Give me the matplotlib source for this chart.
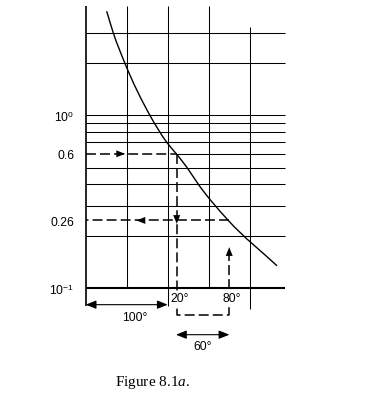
import matplotlib
matplotlib.use('Agg')
import matplotlib.pyplot as plt
import numpy as np
from matplotlib.path import Path
from matplotlib.patches import PathPatch
from matplotlib.transforms import IdentityTransform

plt.rcParams['font.family'] = ['Liberation Sans', 'DejaVu Sans']
plt.rcParams['mathtext.fontset'] = 'custom'
plt.rcParams['mathtext.rm'] = 'Liberation Sans'
plt.rcParams['mathtext.it'] = 'Liberation Serif:italic'

# ── data (x in degrees, y on log scale) ──────────────────
curve_x = [25.6, 33.7, 47.9, 78.4, 98.8, 110.5, 123.5, 137.3, 173.9, 233.3]
curve_y = [4.01, 3.0, 2.0, 1.0, 0.70, 0.60, 0.50, 0.40, 0.247, 0.135]

grid_y = [3, 2, 1, 0.9, 0.8, 0.7, 0.5, 0.4, 0.3, 0.2]
grid_x = [50, 100, 150]

tick_vals = [1, 0.6, 0.247, 0.1]
tick_labels = ['10$^{0}$', '0.6', '0.26', '10$^{-1}$']

x_lo, x_hi = 111, 175          # the 20° and 80° readings
y_hi, y_lo = 0.6, 0.247

XMAX, YMIN, YMAX = 243.4, 0.1, 4.30

# ── canvas ──────────────────────────────────────────────
fig = plt.figure(figsize=(3.74, 4.02), dpi=100)
fig.patch.set_facecolor('white')
ax = fig.add_axes([85.7 / 374, 1 - 289.3 / 402, 199.6 / 374, 282.3 / 402])
ax.set_yscale('log')
ax.set_xlim(0, XMAX)
ax.set_ylim(YMIN, YMAX)
for s in ax.spines.values():
    s.set_visible(False)
ax.set_xticks([])
ax.set_yticks(tick_vals)
ax.set_yticklabels(tick_labels, fontsize=8.7)
ax.yaxis.set_minor_locator(matplotlib.ticker.NullLocator())
ax.tick_params(axis='y', length=0, pad=8.4)

# ── grid ────────────────────────────────────────────────
k = dict(color='black', lw=0.75, clip_on=False, solid_capstyle='butt')
for gy in grid_y:
    ax.plot([0, XMAX], [gy, gy], **k)
ax.plot([x_lo, XMAX], [y_hi, y_hi], **k)
for gx in grid_x:
    ax.plot([gx, gx], [YMIN, YMAX], **k)
ax.plot([100, 100], [0.079, YMIN], **k)
ax.plot([200, 200], [0.0759, 3.25], **k)

# axes lines
ax.plot([0, 0], [0.079, YMAX], color='black', lw=1.2, clip_on=False, solid_capstyle='butt')
ax.plot([0, XMAX], [YMIN, YMIN], color='black', lw=1.5, clip_on=False, solid_capstyle='butt')

# ── curve: smooth (Hermite-in-x) path through the read points ──
pts = ax.transData.transform(np.column_stack([curve_x, curve_y]))
X, Y = pts[:, 0], pts[:, 1]
h = np.diff(X)
sec = np.diff(Y) / h
m = np.empty(len(X))
m[0], m[-1] = sec[0], sec[-1]
m[1:-1] = (h[1:] * sec[:-1] + h[:-1] * sec[1:]) / (h[:-1] + h[1:])
verts, codes = [pts[0]], [Path.MOVETO]
for i in range(len(X) - 1):
    verts += [(X[i] + h[i] / 3, Y[i] + m[i] * h[i] / 3),
              (X[i + 1] - h[i] / 3, Y[i + 1] - m[i + 1] * h[i] / 3),
              (X[i + 1], Y[i + 1])]
    codes += [Path.CURVE4] * 3
fig.add_artist(PathPatch(Path(verts, codes), transform=IdentityTransform(),
                         facecolor='none', edgecolor='black', lw=1.0))

# ── dashed construction lines ──────────────────────────
d = dict(color='black', lw=1.1, ls=(0, (6.5, 2.7)), clip_on=False)
ax.plot([0, x_lo], [y_hi, y_hi], **d)
ax.plot([x_lo, x_lo, x_hi, x_hi], [y_hi, 0.0704, 0.0704, 0.173], **d)
ax.plot([x_hi, 0], [y_lo, y_lo], **d)

head = dict(arrowstyle='-|>,head_length=0.45,head_width=0.18', color='black',
            lw=0, shrinkA=0, shrinkB=0, mutation_scale=14)
ax.annotate('', xy=(48, y_hi), xytext=(30, y_hi), arrowprops=head, annotation_clip=False)
ax.annotate('', xy=(x_lo, 0.236), xytext=(x_lo, 0.3), arrowprops=head, annotation_clip=False)
ax.annotate('', xy=(62, y_lo), xytext=(80, y_lo), arrowprops=head, annotation_clip=False)
ax.annotate('', xy=(x_hi, 0.173), xytext=(x_hi, 0.14), arrowprops=head, annotation_clip=False)

# ── span arrows below the axis ─────────────────────────
span = dict(arrowstyle='<|-|>,head_length=0.45,head_width=0.18', color='black',
            lw=0.8, shrinkA=0, shrinkB=0, mutation_scale=14)
ax.annotate('', xy=(0, 0.0804), xytext=(100, 0.0804), arrowprops=span, annotation_clip=False)
ax.annotate('', xy=(110.1, 0.0539), xytext=(175.2, 0.0539), arrowprops=span, annotation_clip=False)

box = dict(facecolor='white', edgecolor='none', pad=0.6)
ax.text(102.8, 0.0875, '20°', fontsize=8.7, ha='left', va='center', bbox=box, zorder=5)
ax.text(178, 0.0875, '80°', fontsize=8.7, ha='center', va='center', bbox=box, zorder=5)
ax.text(60, 0.0682, '100°', fontsize=8.7, ha='center', va='center')
ax.text(142.4, 0.0466, '60°', fontsize=8.7, ha='center', va='center')

# ── caption ─────────────────────────────────────────────
fig.text(115 / 374, 1 - 386 / 402, 'Figure 8.1$a$.', family='Liberation Serif',
         fontsize=11, ha='left', va='baseline')

plt.savefig('out.png', dpi=100, facecolor='white')
plt.close()
